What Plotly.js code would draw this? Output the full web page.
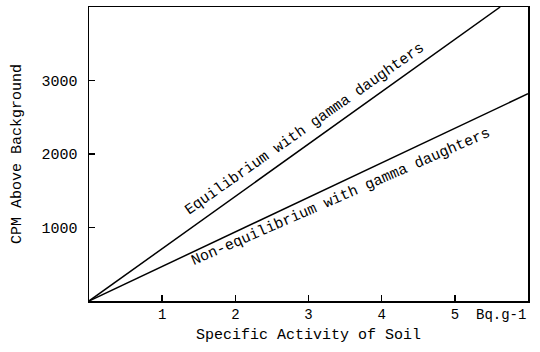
<!DOCTYPE html>
<html>
<head>
<meta charset="utf-8">
<script src="https://cdn.plot.ly/plotly-3.0.1.min.js"></script>
<style>html,body{margin:0;padding:0;background:#fff;}#chart{width:540px;height:352px;}</style>
</head>
<body>
<div id="chart"></div>
<script>
// Data
const activity = [0, 5.62];          // Bq/g, equilibrium line endpoints
const cpmEquilibrium = [0, 4000];
const activityNon = [0, 6];
const cpmNonEquilibrium = [0, 2820];
const xTicks = [1, 2, 3, 4, 5];
const yTicks = [1000, 2000, 3000];
const labelEq = "Equilibrium with gamma daughters";
const labelNon = "Non-equilibrium with gamma daughters";
const unitLabel = "Bq.g-1";

const FONT = '"Courier New", "Liberation Mono", monospace';

const traces = [
  {x: activity, y: cpmEquilibrium, mode: 'lines', line: {color: '#000', width: 1.5}, hoverinfo: 'skip', showlegend: false},
  {x: activityNon, y: cpmNonEquilibrium, mode: 'lines', line: {color: '#000', width: 1.5}, hoverinfo: 'skip', showlegend: false}
];

const layout = {
  width: 540, height: 352,
  margin: {l: 89, r: 12, t: 7, b: 51},
  paper_bgcolor: '#fff', plot_bgcolor: '#fff',
  font: {family: FONT, size: 14, color: '#000'},
  showlegend: false,
  xaxis: {
    range: [0, 6], tickvals: xTicks, ticktext: xTicks.map(String),
    ticks: 'inside', ticklen: 6, tickwidth: 1.5, tickcolor: '#000',
    showgrid: false, zeroline: false,
    showline: true, linecolor: '#000', linewidth: 1.5, mirror: true,
    tickfont: {family: FONT, size: 14},
    title: {text: 'Specific Activity of Soil', font: {family: FONT, size: 15}, standoff: 6}
  },
  yaxis: {
    range: [0, 4000], tickvals: yTicks, ticktext: yTicks.map(String),
    ticks: 'inside', ticklen: 6, tickwidth: 1.5, tickcolor: '#000',
    ticklabelstandoff: 7,
    showgrid: false, zeroline: false,
    showline: true, linecolor: '#000', linewidth: 1.5, mirror: true,
    tickfont: {family: FONT, size: 15},
    title: {text: 'CPM Above Background', font: {family: FONT, size: 15}, standoff: 16}
  },
  annotations: [
    {x: 2.95, y: 2330, xref: 'x', yref: 'y', text: labelEq, showarrow: false, textangle: -35,
     font: {family: FONT, size: 15}},
    {x: 3.44, y: 1410, xref: 'x', yref: 'y', text: labelNon, showarrow: false, textangle: -23.5,
     font: {family: FONT, size: 15}},
    {x: 6, y: 0, xref: 'x', yref: 'paper', text: unitLabel, showarrow: false,
     xanchor: 'right', yanchor: 'top', yshift: -4, font: {family: FONT, size: 14}}
  ]
};

Plotly.newPlot('chart', traces, layout, {staticPlot: true, displayModeBar: false});
</script>
</body>
</html>
